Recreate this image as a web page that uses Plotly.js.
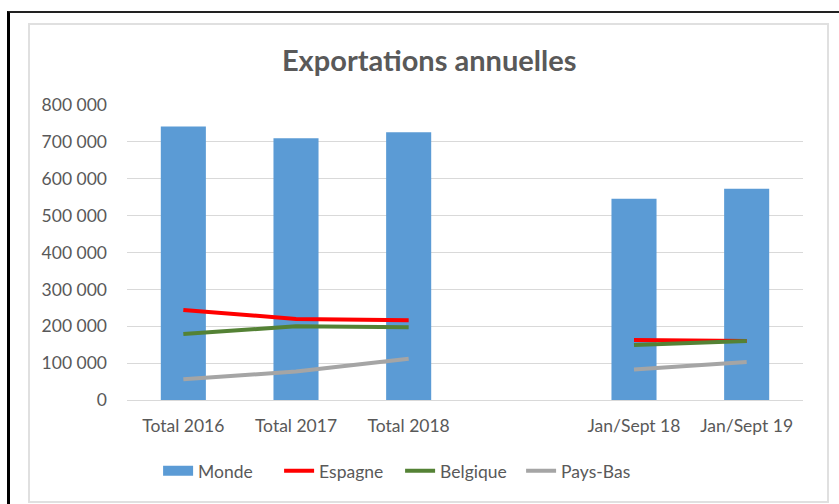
<!DOCTYPE html>
<html>
<head>
<meta charset="utf-8">
<script src="https://cdn.plot.ly/plotly-3.0.1.min.js"></script>
<style>
  html, body { margin: 0; padding: 0; background: #fff; }
  #wrap { position: relative; width: 839px; height: 504px; overflow: hidden; }
  #outer { position: absolute; left: 7px; top: 11px; width: 840px; height: 500px;
           border-left: 3px solid #000; border-top: 2px solid #222; }
  #inner { position: absolute; left: 28px; top: 23px; width: 797px; height: 476px;
           border: 2px solid #e0e0e0; }
  #chart { position: absolute; left: 0; top: 0; width: 839px; height: 504px; }
</style>
</head>
<body>
<div id="wrap">
  <div id="outer"></div>
  <div id="inner"></div>
  <div id="chart"></div>
</div>
<script>
const categories = ["Total 2016", "Total 2017", "Total 2018", " ", "Jan/Sept 18", "Jan/Sept 19"];
const monde    = [742000, 710000, 726000, null, 546000, 573000];
const espagne  = [244000, 220000, 216000, null, 163000, 160000];
const belgique = [179000, 200000, 197000, null, 149000, 160000];
const paysBas  = [56000, 77000, 112000, null, 83000, 103000];
const yTicks   = [0, 100000, 200000, 300000, 400000, 500000, 600000, 700000, 800000];

const FONT = "Lato, 'Open Sans', sans-serif";
const GREY = "#595959";

function lineTrace(name, y, color) {
  return { type: "scatter", mode: "lines", name: name, x: categories, y: y,
           line: { color: color, width: 4 }, connectgaps: false, hoverinfo: "skip" };
}

const data = [
  { type: "bar", name: "Monde", x: categories, y: monde, marker: { color: "#5B9BD5" },
    showlegend: false, hoverinfo: "skip" },
  { type: "scatter", mode: "lines", name: "Monde", x: [null], y: [null],
    line: { color: "#5B9BD5", width: 11 }, showlegend: true, hoverinfo: "skip" },
  lineTrace("Espagne", espagne, "#FF0000"),
  lineTrace("Belgique", belgique, "#548235"),
  lineTrace("Pays-Bas", paysBas, "#A5A5A5")
];

const layout = {
  width: 839, height: 504,
  paper_bgcolor: "rgba(0,0,0,0)", plot_bgcolor: "rgba(0,0,0,0)",
  margin: { l: 127, r: 36, t: 105, b: 104 },
  separators: ", ",
  font: { family: FONT, color: GREY, size: 17.5 },
  title: { text: "<b>Exportations annuelles</b>", font: { family: FONT, size: 29, color: GREY },
           x: 0.447, xanchor: "center", y: 0.88, yanchor: "middle", xref: "paper", yref: "container" },
  bargap: 0.6,
  showlegend: true,
  legend: { orientation: "h", x: 0.046, xanchor: "left", y: -0.24, yanchor: "middle",
            entrywidth: 76, itemwidth: 30,
            font: { family: FONT, size: 17.5, color: GREY }, traceorder: "normal" },
  xaxis: { type: "category", categoryorder: "array", categoryarray: categories,
           showgrid: false, showline: false, ticks: "", ticklabelstandoff: 13,
           tickfont: { family: FONT, size: 17.5, color: GREY }, fixedrange: true },
  yaxis: { range: [0, 800000], tickvals: yTicks, tickformat: ",d", showgrid: true,
           gridcolor: "#D9D9D9", gridwidth: 1, zeroline: true, zerolinecolor: "#D9D9D9",
           zerolinewidth: 1, showline: false, ticks: "", ticklabelstandoff: 19,
           tickfont: { family: FONT, size: 17.5, color: GREY }, fixedrange: true }
};

Plotly.newPlot("chart", data, layout, { staticPlot: true, displayModeBar: false });
</script>
</body>
</html>
